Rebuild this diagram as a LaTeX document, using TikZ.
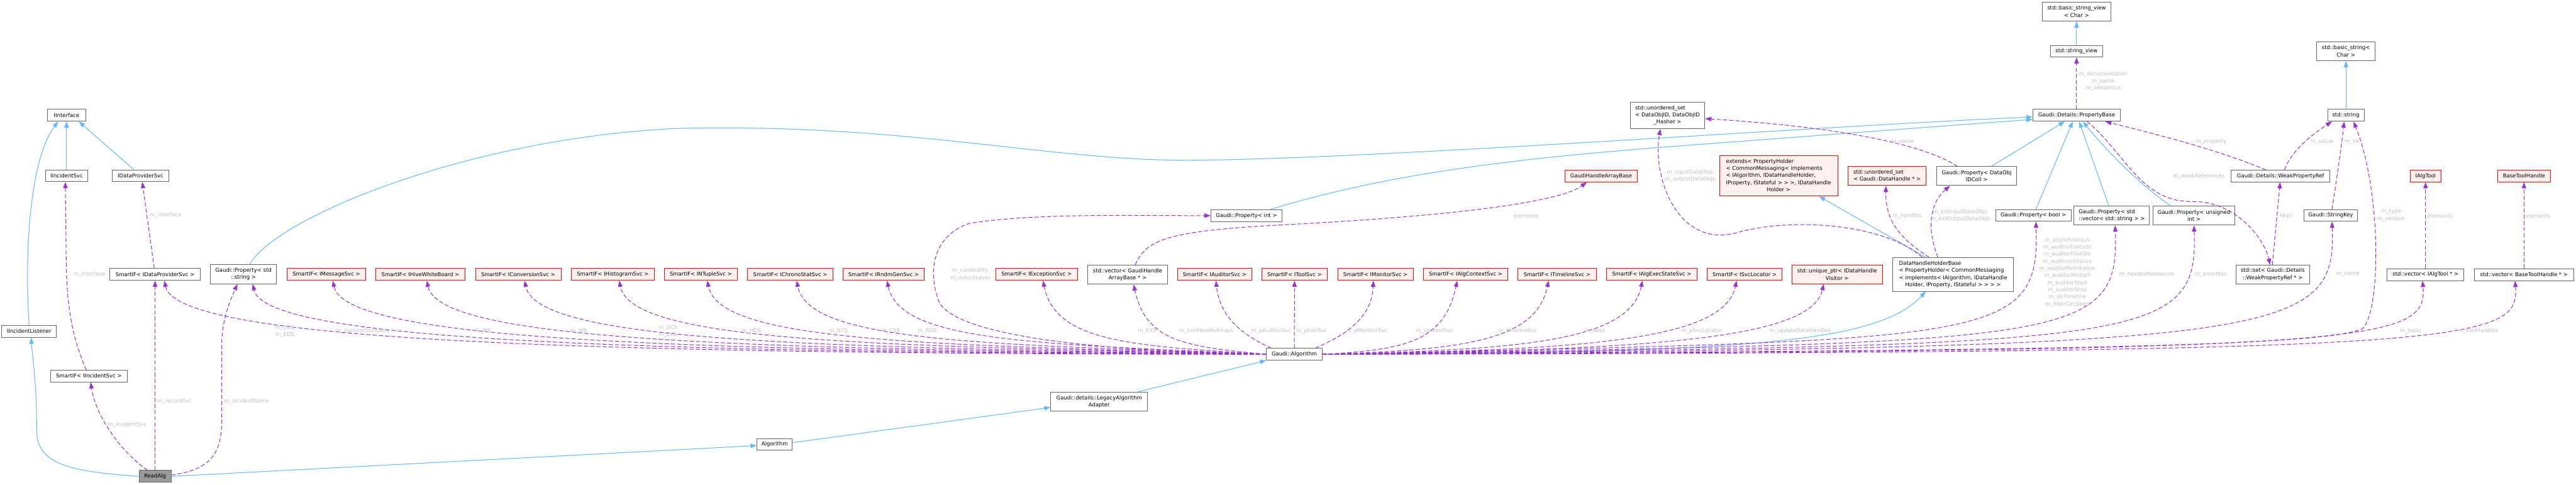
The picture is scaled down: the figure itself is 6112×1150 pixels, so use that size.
\documentclass[tikz,border=0pt]{standalone}
\usepackage{fontspec}
\setmainfont{DejaVu Sans}
\usetikzlibrary{arrows.meta,calc}
\definecolor{inhblue}{HTML}{63B8FF}
\definecolor{deppurple}{HTML}{9A32CD}
\definecolor{nodeborder}{HTML}{666666}
\definecolor{pinkbg}{HTML}{FFF0F0}
\definecolor{curfill}{HTML}{999999}
\definecolor{lblgray}{HTML}{BEBEBE}
\newcommand{\gvl}[1]{\begin{tabular}{@{}l@{}}#1\end{tabular}}
\newcommand{\gvc}[1]{\multicolumn{1}{@{}c@{}}{#1}}
\tikzset{
  cls/.style={draw=nodeborder, fill=white, line width=0.9pt, inner sep=0pt, align=center, minimum height=0.7cm, font=\fontsize{9}{12}\selectfont},
  undoc/.style={cls, draw=red, fill=pinkbg},
  cur/.style={cls, fill=curfill},
  inh/.style={color=inhblue, line width=1.1pt, -{Triangle[length=10.5pt,width=7.5pt]}},
  dep/.style={color=deppurple, line width=1.1pt, dash pattern=on 7pt off 3.5pt, -{Triangle[length=10.5pt,width=7.5pt]}},
  lbl/.style={text=lblgray, align=center, inner sep=0pt, font=\fontsize{9}{12}\selectfont},
}
\begin{document}
\begin{tikzpicture}[x=0.025cm, y=-0.025cm]
\fill[white] (0,0) rectangle (6112,1150);
\useasboundingbox (0,0) rectangle (6112,1150);

% ---------- nodes ----------
\node[cls, minimum width=2.25cm] (iint) at (158,273.5) {IInterface};
\node[cls, minimum width=2.5cm] (iisvc) at (158,417) {IIncidentSvc};
\node[cls, minimum width=3.325cm] (idps) at (333.5,417) {IDataProviderSvc};
\node[cls, minimum width=5.35cm] (sdps) at (368,651) {SmartIF< IDataProviderSvc >};
\node[cls, minimum width=3.925cm, minimum height=1.125cm] (pstr) at (577.5,650.5) {Gaudi::Property< std\\::string >};
\node[cls, minimum width=3.25cm] (iil) at (69,786) {IIncidentListener};
\node[cls, minimum width=4.55cm] (sis) at (211,892) {SmartIF< IIncidentSvc >};
\node[cur, minimum width=1.9cm] (readalg) at (368,1130) {ReadAlg};
\node[undoc, minimum width=4.675cm] (sms) at (774.5,651) {SmartIF< IMessageSvc >};
\node[undoc, minimum width=5.325cm] (swb) at (997.5,651) {SmartIF< IHiveWhiteBoard >};
\node[undoc, minimum width=5.075cm] (scs) at (1229.5,651) {SmartIF< IConversionSvc >};
\node[undoc, minimum width=4.95cm] (shs) at (1454,651) {SmartIF< IHistogramSvc >};
\node[undoc, minimum width=4.35cm] (snts) at (1663,651) {SmartIF< INTupleSvc >};
\node[undoc, minimum width=5.05cm] (scss) at (1875,651) {SmartIF< IChronoStatSvc >};
\node[undoc, minimum width=4.825cm] (srgs) at (2096.5,651) {SmartIF< IRndmGenSvc >};
\node[undoc, minimum width=4.825cm] (sexs) at (2459.5,651) {SmartIF< IExceptionSvc >};
\node[cls, minimum width=4.725cm, minimum height=1.125cm] (vgh) at (2675.5,651.5) {std::vector< GaudiHandle\\ArrayBase * >};
\node[undoc, minimum width=4.4cm] (saud) at (2882,651) {SmartIF< IAuditorSvc >};
\node[undoc, minimum width=3.875cm] (stool) at (3071.5,651) {SmartIF< IToolSvc >};
\node[undoc, minimum width=4.475cm] (smon) at (3263.5,651) {SmartIF< IMonitorSvc >};
\node[undoc, minimum width=5.025cm] (sctx) at (3477.5,651) {SmartIF< IAlgContextSvc >};
\node[undoc, minimum width=4.675cm] (stl) at (3694.5,651) {SmartIF< ITimelineSvc >};
\node[undoc, minimum width=5.35cm] (saes) at (3919,651) {SmartIF< IAlgExecStateSvc >};
\node[undoc, minimum width=4.425cm] (ssl) at (4139.5,651) {SmartIF< ISvcLocator >};
\node[undoc, minimum width=5.35cm, minimum height=1.1cm] (uptr) at (4359,651) {std::unique\_ptr< IDataHandle\\Visitor >};
\node[cls, minimum width=7.15cm, minimum height=2.0cm] (dhhb) at (4634,651) {\gvl{DataHandleHolderBase\\< PropertyHolder< CommonMessaging\\< implements< IAlgorithm, IDataHandle\\\gvc{Holder, IProperty, IStateful > > > >}}};
\node[undoc, minimum width=4.3cm] (ghab) at (3799,417.5) {GaudiHandleArrayBase};
\node[undoc, minimum width=7.0cm, minimum height=2.4cm] (ext) at (4220,417) {\gvl{extends< PropertyHolder\\< CommonMessaging< implements\\< IAlgorithm, IDataHandleHolder,\\IProperty, IStateful > > >, IDataHandle\\\gvc{Holder >}}};
\node[undoc, minimum width=4.625cm, minimum height=1.125cm] (usdh) at (4477.5,417.5) {\gvl{std::unordered\_set\\\gvc{< Gaudi::DataHandle * >}}};
\node[cls, minimum width=4.75cm, minimum height=1.125cm] (pdoc) at (4690,417.5) {Gaudi::Property< DataObj\\IDColl >};
\node[cls, minimum width=4.425cm, minimum height=1.575cm] (usid) at (3956.5,273.5) {\gvl{std::unordered\_set\\< DataObjID, DataObjID\\\gvc{\_Hasher >}}};
\node[cls, minimum width=4.225cm] (pint) at (2957.5,511.5) {Gaudi::Property< int >};
\node[cls, minimum width=3.3cm] (galg) at (3071,840.5) {Gaudi::Algorithm};
\node[cls, minimum width=5.75cm, minimum height=1.125cm] (laa) at (2608,952.5) {Gaudi::details::LegacyAlgorithm\\Adapter};
\node[cls, minimum width=2.1cm] (alg) at (1838,1054) {Algorithm};
\node[cls, minimum width=4.1cm, minimum height=1.125cm] (bsv) at (4927,27.5) {std::basic\_string\_view\\< Char >};
\node[cls, minimum width=3.1cm] (sv) at (4927,121.5) {std::string\_view};
\node[cls, minimum width=5.2cm] (pbase) at (4927,273.5) {Gaudi::Details::PropertyBase};
\node[cls, minimum width=3.45cm, minimum height=1.125cm] (bs) at (5566,121.5) {std::basic\_string<\\Char >};
\node[cls, minimum width=2.15cm] (str) at (5566,273.5) {std::string};
\node[cls, minimum width=5.85cm] (wpr) at (5411,417.5) {Gaudi::Details::WeakPropertyRef};
\node[undoc, minimum width=1.8cm] (iat) at (5755,417.5) {IAlgTool};
\node[undoc, minimum width=3.125cm] (bth) at (5988.5,417.5) {BaseToolHandle};
\node[cls, minimum width=4.475cm] (pbool) at (4824.5,511) {Gaudi::Property< bool >};
\node[cls, minimum width=4.475cm, minimum height=1.125cm] (pvs) at (5010.5,511.5) {\gvl{Gaudi::Property< std\\\gvc{::vector< std::string > >}}};
\node[cls, minimum width=4.875cm, minimum height=1.125cm] (pui) at (5205.5,511.5) {Gaudi::Property< unsigned\\int >};
\node[cls, minimum width=3.2cm] (skey) at (5530,511) {Gaudi::StringKey};
\node[cls, minimum width=4.375cm, minimum height=1.1cm] (sset) at (5392.5,651) {std::set< Gaudi::Details\\::WeakPropertyRef * >};
\node[cls, minimum width=4.55cm] (viat) at (5755,651.5) {std::vector< IAlgTool * >};
\node[cls, minimum width=5.875cm] (vbth) at (5988.5,651.5) {std::vector< BaseToolHandle * >};

% ---------- inheritance (blue) ----------
\draw[inh] (iisvc) -- (iint);
\draw[inh] ($(idps.north)+(-16,0)$) -- ($(iint.south)+(29,0)$);
\draw[inh] (iil.north) .. controls (58,600) and (70,380) .. ($(iint.south)+(-20,0)$);
\draw[inh] (readalg.west) .. controls (160,1118) and (87,1100) .. (87,1020) .. controls (87,900) and (76,840) .. ($(iil.south)+(5,0)$);
\draw[inh] (readalg.east) -- ($(alg.west)+(0,3)$);
\draw[inh] ($(alg.east)+(0,-4)$) -- ($(laa.west)+(0,14)$);
\draw[inh] ($(laa.north)+(92,0)$) -- (galg.south west);
\draw[inh] (galg.east) .. controls (4100,835) and (4450,820) .. ($(dhhb.south)+(-65,0)$);
\draw[inh] ($(dhhb.north)+(-65,0)$) -- ($(ext.south)+(96,0)$);
\draw[inh] ($(pstr.north)+(15,0)$) .. controls (650,520) and (1100,330) .. (1600,305) .. controls (2150,290) and (2500,385) .. (2842,380) .. controls (3300,375) and (4300,300) .. ($(pbase.west)+(0,4)$);
\draw[inh] ($(pint.north)+(56,0)$) .. controls (3300,410) and (3600,375) .. (4000,345) .. controls (4400,315) and (4700,292) .. ($(pbase.west)+(0,10)$);
\draw[inh] ($(pdoc.north)+(35,0)$) -- ($(pbase.south)+(-28,0)$);
\draw[inh] ($(pbool.north)+(6,0)$) -- ($(pbase.south)+(-9,0)$);
\draw[inh] ($(pvs.north)+(-7,0)$) -- ($(pbase.south)+(6,0)$);
\draw[inh] ($(pui.north)+(-55,0)$) .. controls (5080,440) and (5000,360) .. ($(pbase.south)+(15,0)$);
\draw[inh] (sv) -- (bsv);
\draw[inh] (str) -- (bs);

% ---------- usage (purple dashed) ----------
\draw[dep] ($(sis.north)+(-6,0)$) .. controls (170,800) and (157,720) .. (157,600) -- ($(iisvc.south)+(-3,0)$);
\draw[dep] ($(sdps.north)+(-2,0)$) -- ($(idps.south)+(4,0)$);
\draw[dep] ($(readalg.north)+(-18,0)$) .. controls (290,1075) and (228,990) .. ($(sis.south)+(4,0)$);
\draw[dep] (readalg.north) -- (sdps.south);
\draw[dep] ($(readalg.east)+(0,-3)$) .. controls (490,1115) and (526,1085) .. (526,1000) -- (526,820) .. controls (526,760) and (545,715) .. ($(pstr.south)+(-14,0)$);

% Gaudi::Algorithm, left bundle
\draw[dep] (galg.west) .. controls (1384,840) and (420,810) .. ($(sdps.south)+(22,0)$);
\draw[dep] (galg.west) .. controls (1514,836) and (630,810) .. ($(pstr.south)+(22,0)$);
\draw[dep] (galg.west) .. controls (1631,832) and (820,810) .. ($(sms.south)+(15,0)$);
\draw[dep] (galg.west) .. controls (1770,828) and (1043,810) .. ($(swb.south)+(15,0)$);
\draw[dep] (galg.west) .. controls (1913,824) and (1275,810) .. ($(scs.south)+(15,0)$);
\draw[dep] (galg.west) .. controls (2053,820) and (1499,810) .. ($(shs.south)+(15,0)$);
\draw[dep] (galg.west) .. controls (2182,818) and (1708,810) .. ($(snts.south)+(15,0)$);
\draw[dep] (galg.west) .. controls (2314,816) and (1920,810) .. ($(scss.south)+(15,0)$);
\draw[dep] (galg.west) .. controls (2447,815) and (2135,810) .. ($(srgs.south)+(8,0)$);
\draw[dep] (galg.west) .. controls (2700,835) and (2290,810) .. (2230,720) .. controls (2200,650) and (2210,560) .. (2300,530) .. controls (2450,505) and (2700,512) .. (pint.west);
\draw[dep] (galg.west) .. controls (2676,820) and (2505,810) .. ($(sexs.south)+(15,0)$);
\draw[dep] (galg.west) .. controls (2809,822) and (2720,810) .. ($(vgh.south)+(14,0)$);
% middle
\draw[dep] ($(galg.north west)+(12,0)$) .. controls (2960,800) and (2895,760) .. ($(saud.south)+(3,0)$);
\draw[dep] (galg.north) -- (stool.south);
\draw[dep] ($(galg.north east)+(-17,0)$) .. controls (3180,800) and (3255,760) .. ($(smon.south)+(-5,0)$);
% right near
\draw[dep] (galg.east) .. controls (3336,830) and (3427,810) .. ($(sctx.south)+(-20,0)$);
\draw[dep] (galg.east) .. controls (3470,830) and (3644,810) .. ($(stl.south)+(-20,0)$);
\draw[dep] (galg.east) .. controls (3608,830) and (3867,810) .. ($(saes.south)+(-22,0)$);
\draw[dep] (galg.east) .. controls (3747,830) and (4090,810) .. ($(ssl.south)+(-19,0)$);
\draw[dep] (galg.east) .. controls (3875,830) and (4297,810) .. ($(uptr.south)+(-32,0)$);
% right far
\draw[dep] (galg.east) .. controls (4730,805) and (4840,815) .. ($(pbool.south)+(6,0)$);
\draw[dep] (galg.east) .. controls (4918,812) and (5028,815) .. ($(pvs.south)+(8,0)$);
\draw[dep] (galg.east) .. controls (5105,818) and (5215,815) .. (pui.south);
\draw[dep] (galg.east) .. controls (5433,824) and (5543,800) .. ($(skey.south)+(3,0)$);
\draw[dep] (galg.east) .. controls (4600,832) and (5500,828) .. (5605,780) .. controls (5650,740) and (5650,450) .. ($(str.south)+(18,0)$);
\draw[dep] (galg.east) .. controls (5648,832) and (5758,815) .. ($(viat.south)+(-7,0)$);
\draw[dep] (galg.east) .. controls (5867,836) and (5977,815) .. ($(vbth.south)+(-21,0)$);

% DataHandleHolderBase members
\draw[dep] ($(dhhb.north)+(-73,0)$) .. controls (4470,530) and (4250,515) .. (4121,552) .. controls (3980,590) and (3920,420) .. ($(usid.south)+(-17,0)$);
\draw[dep] ($(dhhb.north)+(-57,0)$) .. controls (4500,560) and (4474,520) .. ($(usdh.south)+(-3,0)$);
\draw[dep] ($(dhhb.north)+(-36,0)$) .. controls (4570,540) and (4580,480) .. ($(pdoc.south)+(-63,0)$);
\draw[dep] ($(pdoc.north)+(-46,0)$) .. controls (4560,340) and (4350,300) .. ($(usid.east)+(0,8)$);
\draw[dep] ($(vgh.north)+(18,0)$) .. controls (2720,570) and (2760,548) .. (3050,533) .. controls (3450,512) and (3700,480) .. ($(ghab.south)+(-34,0)$);

% property base area
\draw[dep] (pbase.north) -- (sv.south);
\draw[dep] ($(wpr.north)+(-35,0)$) .. controls (5250,350) and (5080,310) .. ($(pbase.south)+(68,0)$);
\draw[dep] ($(pbase.south)+(25,0)$) .. controls (5040,360) and (5080,480) .. (5200,478) .. controls (5300,476) and (5370,560) .. ($(sset.north)+(-6,0)$);
\draw[dep] ($(sset.north)+(-1,0)$) -- ($(wpr.south)+(-1,0)$);
\draw[dep] ($(wpr.north)+(9,0)$) .. controls (5440,350) and (5500,310) .. ($(str.south)+(-33,0)$);
\draw[dep] ($(skey.north)+(3,0)$) .. controls (5545,420) and (5555,350) .. ($(str.south)+(-4,0)$);
\draw[dep] (viat) -- (iat);
\draw[dep] (vbth) -- (bth);

% ---------- edge labels ----------
\node[lbl] (l1) at (393,511) {m\_interface};
\node[lbl] (l2) at (212,651) {m\_interface};
\node[lbl] (l3) at (414,952) {m\_recordSvc};
\node[lbl] (l4) at (585,952) {m\_incidentName};
\node[lbl] (l5) at (302,1007) {m\_incidentSvc};
\node[lbl] (l6) at (676,786) {m\_DDS\\m\_EDS};
\node[lbl] (l7) at (861,786) {m\_monitorSvcName};
\node[lbl] (l8) at (1146,786) {m\_MS};
\node[lbl] (l9) at (1373,786) {m\_WB};
\node[lbl] (l10) at (1585,786) {m\_DCS\\m\_ECS};
\node[lbl] (l11) at (1783,786) {m\_HDS};
\node[lbl] (l12) at (1989,786) {m\_NTS};
\node[lbl] (l13) at (2113,786) {m\_CSS};
\node[lbl] (l14) at (2200,786) {m\_RGS};
\node[lbl] (l15) at (2302,651) {m\_cardinality\\m\_outputLevel};
\node[lbl] (l16) at (2722,786) {m\_EXS};
\node[lbl] (l17) at (2862,786) {m\_toolHandleArrays};
\node[lbl] (l18) at (3016,786) {m\_pAuditorSvc};
\node[lbl] (l19) at (3112,786) {m\_ptoolSvc};
\node[lbl] (l20) at (3243,786) {m\_pMonitorSvc};
\node[lbl] (l21) at (3404,786) {m\_contextSvc};
\node[lbl] (l22) at (3601,786) {m\_timelineSvc};
\node[lbl] (l23) at (3784,786) {m\_aess};
\node[lbl] (l24) at (4038,786) {m\_pSvcLocator};
\node[lbl] (l25) at (4271,786) {m\_updateDataHandles};
\node[lbl] (l26) at (4905,653) {m\_asynchronous\\m\_auditorExecute\\m\_auditorFinalize\\m\_auditorInitialize\\m\_auditorReinitialize\\m\_auditorRestart\\m\_auditorStart\\m\_auditorStop\\m\_doTimeline\\m\_filterCircDeps\\...};
\node[lbl] (l27) at (5094,651) {m\_neededResources};
\node[lbl] (l28) at (5246,651) {m\_errorMax};
\node[lbl] (l29) at (5571,651) {m\_name};
\node[lbl] (l30) at (5673,511) {m\_type\\m\_version};
\node[lbl] (l31) at (5719,786) {m\_tools};
\node[lbl] (l32) at (5880,786) {m\_toolHandles};
\node[lbl] (l33) at (5789,512) {elements};
\node[lbl] (l34) at (6022,512) {elements};
\node[lbl] (l35) at (5424,512) {keys};
\node[lbl] (l36) at (5217,418) {m\_weakReferences};
\node[lbl] (l37) at (5246,336) {m\_property};
\node[lbl] (l38) at (5509,336) {m\_value};
\node[lbl] (l39) at (5581,336) {m\_str};
\node[lbl] (l40) at (4990,193) {m\_documentation\\m\_name\\m\_semantics};
\node[lbl] (l41) at (4514,336) {m\_value};
\node[lbl] (l42) at (4010,417) {m\_inputDataObjs\\m\_outputDataObjs};
\node[lbl] (l43) at (4525,512) {m\_handles};
\node[lbl] (l44) at (4651,511) {m\_extInputDataObjs\\m\_extOutputDataObjs};
\node[lbl] (l45) at (3621,512) {elements};
\end{tikzpicture}
\end{document}
